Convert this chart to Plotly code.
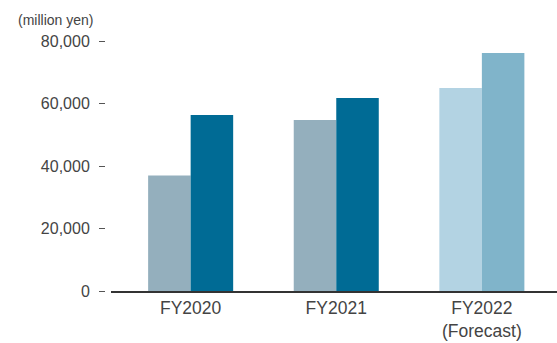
import plotly.graph_objects as go

# Fiscal years and the two bar series (million yen)
categories = ["FY2020", "FY2021", "FY2022<br>(Forecast)"]
series_first = [37000, 54700, 65000]
series_second = [56300, 61800, 76200]

# Per-bar fills: actual years in solid tones, forecast year in lighter tones
colors_first = ["#94AFBD", "#94AFBD", "#B3D3E3"]
colors_second = ["#006B95", "#006B95", "#80B4CA"]

y_ticks = [0, 20000, 40000, 60000, 80000]

font_family = "Liberation Sans, Arial, sans-serif"
text_color = "#444444"

fig = go.Figure()
fig.add_trace(go.Bar(x=categories, y=series_first, marker=dict(color=colors_first, line=dict(width=0)),
                     name="first", showlegend=False))
fig.add_trace(go.Bar(x=categories, y=series_second, marker=dict(color=colors_second, line=dict(width=0)),
                     name="second", showlegend=False))

fig.update_layout(
    width=557,
    height=343,
    margin=dict(l=105, r=0, t=41, b=52),
    paper_bgcolor="white",
    plot_bgcolor="white",
    barmode="group",
    bargap=0.416,
    bargroupgap=0,
    font=dict(family=font_family, color=text_color),
    xaxis=dict(
        domain=[6 / 452, 1],
        range=[-0.547, 2.516],
        showline=True,
        linecolor="#333333",
        linewidth=2,
        ticks="",
        showgrid=False,
        tickfont=dict(size=17.5, color=text_color),
    ),
    yaxis=dict(
        anchor="free",
        position=0,
        range=[0, 80000],
        tickvals=y_ticks,
        tickformat=",",
        ticks="outside",
        ticklen=6,
        tickwidth=1,
        tickcolor="#555555",
        showgrid=False,
        zeroline=False,
        showline=False,
        ticklabelstandoff=6,
        tickfont=dict(size=16, color=text_color),
    ),
    annotations=[
        dict(text="(million yen)", xref="paper", yref="paper", x=-0.0221, y=1.084,
             xanchor="right", yanchor="middle", showarrow=False,
             font=dict(size=14, color=text_color, family=font_family)),
    ],
)

fig.write_html("out.html")
